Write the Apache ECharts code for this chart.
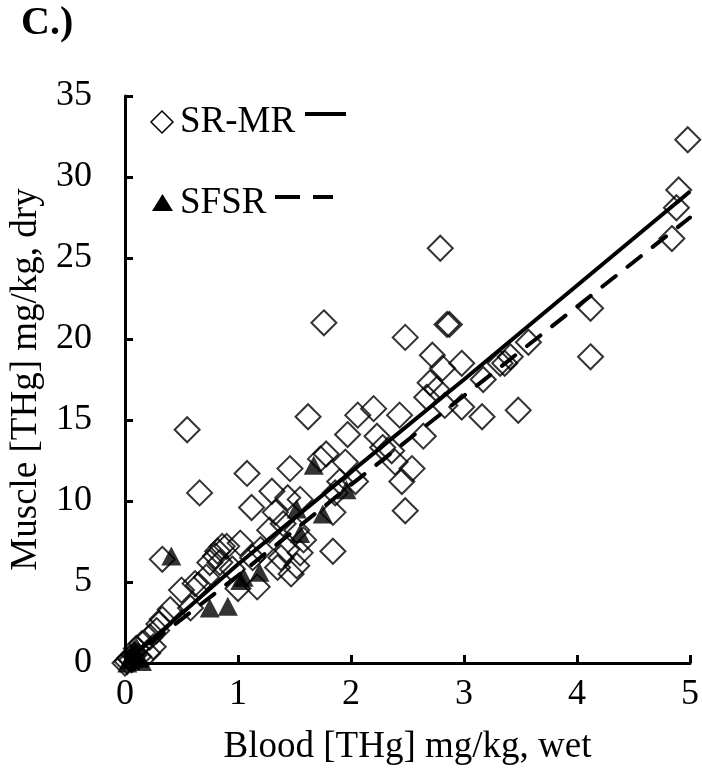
<!DOCTYPE html>
<html>
<head>
<meta charset="utf-8">
<script src="https://cdn.jsdelivr.net/npm/echarts@6/dist/echarts.min.js"></script>
<style>
  html, body { margin: 0; padding: 0; background: #fff; }
  #chart { width: 702px; height: 784px; }
</style>
</head>
<body>
<div id="chart"></div>
<script>
// SR-MR: blood (x) vs muscle (y)
var srmr = [
  [0.0,0.0],[0.02,0.1],[0.04,0.3],[0.06,0.2],[0.08,0.5],[0.1,0.9],[0.12,0.4],[0.15,1.2],
  [0.2,0.6],[0.22,1.6],[0.25,1.0],[0.28,2.0],[0.3,2.4],[0.33,2.7],[0.33,6.4],[0.4,3.3],
  [0.5,4.5],[0.55,14.4],[0.58,3.4],[0.62,4.9],[0.65,4.8],[0.66,10.5],[0.72,5.3],[0.75,6.2],
  [0.8,6.6],[0.82,6.9],[0.84,6.2],[0.86,7.2],[0.9,7.2],[0.95,5.8],[1.0,4.6],[1.02,7.4],
  [1.08,11.7],[1.12,9.6],[1.13,6.5],[1.17,4.7],[1.2,7.0],[1.28,8.2],[1.3,10.6],[1.33,9.3],
  [1.35,5.9],[1.38,6.5],[1.4,8.6],[1.43,7.0],[1.44,10.2],[1.46,12.0],[1.47,5.5],[1.52,8.2],
  [1.52,6.0],[1.55,10.1],[1.55,6.8],[1.58,7.6],[1.62,15.2],[1.73,12.6],[1.76,21.0],[1.78,12.9],
  [1.84,9.3],[1.84,6.9],[1.86,10.5],[1.9,11.2],[1.95,12.4],[1.97,14.1],[2.04,11.2],[2.06,15.3],
  [2.2,15.7],[2.23,14.0],[2.28,13.3],[2.36,13.1],[2.39,12.4],[2.43,15.3],[2.45,11.2],[2.48,20.1],
  [2.48,9.4],[2.54,12.0],[2.64,14.0],[2.67,16.4],[2.7,17.3],[2.72,19.0],[2.76,16.9],[2.79,25.6],
  [2.81,18.2],[2.83,15.9],[2.85,20.9],[2.87,20.9],[2.98,18.5],[2.98,15.8],[3.16,15.2],[3.17,17.5],
  [3.32,18.5],[3.36,18.5],[3.41,18.9],[3.48,15.6],[3.57,19.8],[4.12,21.9],[4.12,18.9],[4.84,26.2],
  [4.88,28.1],[4.9,29.2],[4.98,32.3]
];

// SFSR
var sfsr = [
  [0.02,0.0],[0.04,0.2],[0.06,0.5],[0.08,0.8],[0.1,1.0],[0.12,0.3],[0.15,0.1],[0.41,6.6],
  [0.75,3.4],[0.91,3.5],[1.02,5.1],[1.05,5.3],[1.19,5.6],[1.52,9.5],[1.55,8.0],[1.67,12.2],
  [1.75,9.2],[1.96,10.7]
];

// trend lines
var srmrFit = [[0,0],[1,6.1],[2,11.8],[3,17.5],[4,23.3],[5,29.1]];
var sfsrFit = [[0,0],[1,5.4],[2,11.0],[3,16.5],[4,22.0],[5,27.5]];

var xTicks = [0, 1, 2, 3, 4, 5];
var yTicks = [0, 5, 10, 15, 20, 25, 30, 35];

var serif = '"Liberation Serif", "Times New Roman", serif';

var chart = echarts.init(document.getElementById('chart'));
chart.setOption({
  backgroundColor: '#fff',
  animation: false,
  grid: { left: 125, right: 12, top: 96, bottom: 121 },
  xAxis: {
    type: 'value',
    min: xTicks[0], max: xTicks[xTicks.length - 1], interval: 1,
    name: 'Blood [THg] mg/kg, wet',
    nameLocation: 'middle', nameGap: 66,
    nameTextStyle: { fontFamily: serif, fontSize: 37, color: '#000' },
    axisLine: { lineStyle: { color: '#000', width: 3 } },
    axisTick: { inside: true, length: 8, lineStyle: { color: '#000', width: 3 } },
    axisLabel: { margin: 14, fontFamily: serif, fontSize: 36, color: '#000' },
    splitLine: { show: false }
  },
  yAxis: {
    type: 'value',
    min: yTicks[0], max: yTicks[yTicks.length - 1], interval: 5,
    name: 'Muscle [THg] mg/kg, dry',
    nameLocation: 'middle', nameGap: 80,
    nameTextStyle: { fontFamily: serif, fontSize: 37, color: '#000' },
    axisLine: { lineStyle: { color: '#000', width: 3 } },
    axisTick: { inside: true, length: 8, lineStyle: { color: '#000', width: 3 } },
    axisLabel: { margin: 33, fontFamily: serif, fontSize: 36, color: '#000' },
    splitLine: { show: false }
  },
  graphic: [
    { type: 'text', left: 21, top: 4,
      style: { text: 'C.)', font: 'bold 40px ' + serif, fill: '#000' } },
    // legend
    { type: 'polygon', shape: { points: [[162,111],[173,122],[162,133],[151,122]] },
      style: { fill: 'none', stroke: '#000', lineWidth: 1.5 } },
    { type: 'text', x: 180, y: 122,
      style: { text: 'SR-MR', font: '37px ' + serif, fill: '#000', verticalAlign: 'middle' } },
    { type: 'line', shape: { x1: 305, y1: 114, x2: 346, y2: 114 },
      style: { stroke: '#000', lineWidth: 4 } },
    { type: 'polygon', shape: { points: [[162.5,194],[173,211],[152,211]] },
      style: { fill: '#000' } },
    { type: 'text', x: 180, y: 203,
      style: { text: 'SFSR', font: '37px ' + serif, fill: '#000', verticalAlign: 'middle' } },
    { type: 'line', shape: { x1: 275, y1: 197, x2: 300, y2: 197 },
      style: { stroke: '#000', lineWidth: 4 } },
    { type: 'line', shape: { x1: 313, y1: 197, x2: 333, y2: 197 },
      style: { stroke: '#000', lineWidth: 4 } }
  ],
  series: [
    {
      name: 'SR-MR', type: 'scatter', data: srmr,
      symbol: 'diamond', symbolSize: 25,
      itemStyle: { color: 'rgba(0,0,0,0)', borderColor: '#000', borderWidth: 2 },
      z: 2
    },
    {
      name: 'SFSR', type: 'scatter', data: sfsr,
      symbol: 'triangle', symbolSize: [20, 19],
      itemStyle: { color: '#000' },
      z: 3
    },
    {
      name: 'SR-MR fit', type: 'line', data: srmrFit,
      symbol: 'none', silent: true,
      lineStyle: { color: '#000', width: 4 },
      z: 4
    },
    {
      name: 'SFSR fit', type: 'line', data: sfsrFit,
      symbol: 'none', silent: true,
      lineStyle: { color: '#000', width: 4, type: [17, 15], cap: 'round' },
      z: 4
    }
  ]
});
</script>
</body>
</html>
